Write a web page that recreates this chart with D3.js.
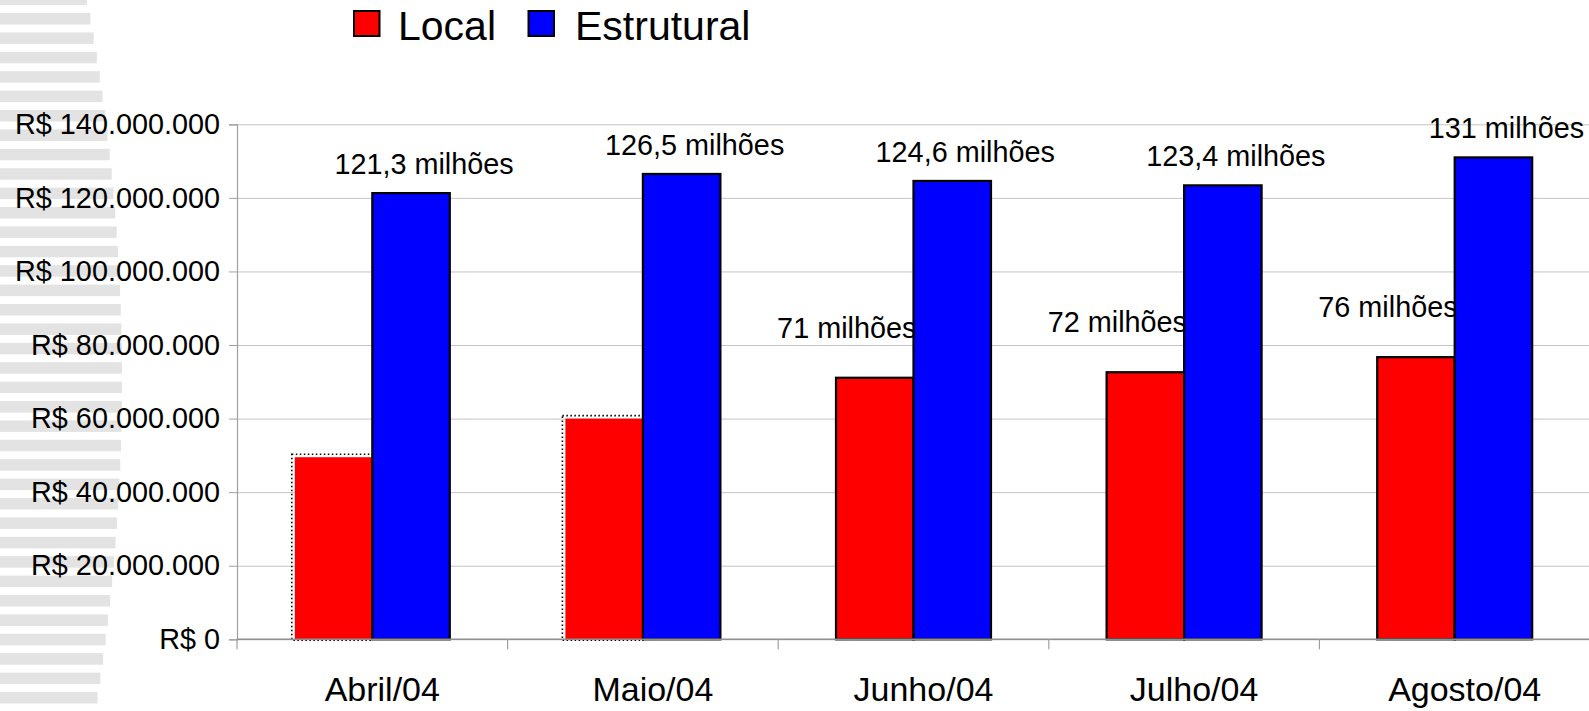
<!DOCTYPE html>
<html>
<head>
<meta charset="utf-8">
<script src="https://cdn.jsdelivr.net/npm/d3@7"></script>
<style>
  body { margin: 0; background: #ffffff; }
  svg { display: block; }
  text { font-family: "Liberation Sans", Arial, Helvetica, sans-serif; fill: #000; }
</style>
</head>
<body>
<svg id="chart" width="1589" height="711"></svg>
<script>
// ---------- DATA (values in millions of R$) ----------
const categories = ["Abril/04", "Maio/04", "Junho/04", "Julho/04", "Agosto/04"];
const seriesNames = ["Local", "Estrutural"];
const localValues = [49.5, 60.0, 71.1, 72.6, 76.7];
const estruturalValues = [121.3, 126.5, 124.6, 123.4, 131.0];
const localLabels = ["", "", "71 milhões", "72 milhões", "76 milhões"];
const estruturalLabels = ["121,3 milhões", "126,5 milhões", "124,6 milhões", "123,4 milhões", "131 milhões"];
const yTickValues = [0, 20, 40, 60, 80, 100, 120, 140];

// ---------- LAYOUT ----------
const W = 1589, H = 711;
const plot = { left: 237, right: 1590, top: 124.3, bottom: 639.3 };
const colors = { Local: "#ff0000", Estrutural: "#0000ff" };

const svg = d3.select("#chart");

// background decoration (watermark stripes at left)
const deco = svg.append("g");
for (let y0 = 13 - 19.4; y0 < H; y0 += 19.4) {
  const yc = y0 + 6;
  const edge = 122 - 35 * Math.pow((yc - 380) / 380, 2);
  deco.append("rect").attr("x", 0).attr("y", y0).attr("width", edge).attr("height", 11.5)
    .attr("fill", "#e3e3e3");
}

// scales
const y = d3.scaleLinear().domain([0, 140]).range([plot.bottom, plot.top]);
const x0 = d3.scaleBand().domain(categories).range([plot.left, plot.right]).padding(0);
const x1 = d3.scaleBand().domain(seriesNames).range([0, x0.bandwidth()])
  .paddingInner(0).paddingOuter(0.746);

const fmt = d3.formatLocale({ decimal: ",", thousands: ".", grouping: [3], currency: ["R$ ", ""] })
  .format(",.0f");

// gridlines
svg.append("g")
  .attr("transform", `translate(${plot.left},0)`)
  .call(d3.axisLeft(y).tickValues(yTickValues).tickSize(-(W - plot.left)).tickFormat(""))
  .call(g => g.select(".domain").remove())
  .call(g => g.selectAll(".tick line").attr("stroke", "#c4c4c4").attr("stroke-width", 1));

// y axis
svg.append("g")
  .attr("transform", `translate(${plot.left},0)`)
  .call(d3.axisLeft(y).tickValues(yTickValues).tickSize(8).tickPadding(9)
    .tickFormat(d => "R$ " + fmt(d * 1e6)))
  .call(g => g.select(".domain").attr("stroke", "#a0a0a0").attr("stroke-width", 1.2))
  .call(g => g.selectAll(".tick line").attr("stroke", "#a0a0a0"))
  .call(g => g.selectAll(".tick text").style("font-size", "28.8px")
    .attr("font-family", "Liberation Sans, Arial, sans-serif").attr("fill", "#000"));

// bars
const rows = categories.map((c, i) => ({
  cat: c, i,
  bars: [
    { key: "Local", value: localValues[i], label: localLabels[i] },
    { key: "Estrutural", value: estruturalValues[i], label: estruturalLabels[i] }
  ]
}));

const groups = svg.append("g").selectAll("g").data(rows).join("g")
  .attr("transform", d => `translate(${x0(d.cat)},0)`);

groups.each(function (row) {
  const g = d3.select(this);
  row.bars.forEach(b => {
    const bx = x1(b.key), bw = x1.bandwidth();
    const by = y(b.value), bh = y(0) - y(b.value);
    const dottedStyle = b.key === "Local" && row.i < 2;
    if (dottedStyle) {
      g.append("rect").attr("x", bx).attr("y", by).attr("width", bw).attr("height", bh)
        .attr("fill", colors[b.key]);
      g.append("rect").attr("x", bx - 3).attr("y", by - 3).attr("width", bw + 3).attr("height", bh + 4)
        .attr("fill", "none").attr("stroke", "#000").attr("stroke-width", 1.6)
        .attr("stroke-dasharray", "1.5,2.5");
    } else {
      g.append("rect").attr("x", bx).attr("y", by).attr("width", bw).attr("height", bh)
        .attr("fill", colors[b.key]).attr("stroke", "#000").attr("stroke-width", 2.2);
    }
  });
});

// x axis line and separators
svg.append("line").attr("x1", plot.left).attr("x2", W).attr("y1", y(0)).attr("y2", y(0))
  .attr("stroke", "#909090").attr("stroke-width", 1.5);
svg.append("g").selectAll("line").data(categories).join("line")
  .attr("x1", d => x0(d)).attr("x2", d => x0(d))
  .attr("y1", y(0)).attr("y2", y(0) + 10)
  .attr("stroke", "#a0a0a0").attr("stroke-width", 1.2);

// category labels
svg.append("g").selectAll("text").data(categories).join("text")
  .attr("x", d => x0(d) + x0.bandwidth() / 2 + 10)
  .attr("y", 701)
  .attr("text-anchor", "middle")
  .style("font-size", "34px")
  .text(d => d);

// value labels
groups.each(function (row) {
  const g = d3.select(this);
  row.bars.forEach(b => {
    if (!b.label) return;
    const cx = x1(b.key) + x1.bandwidth() / 2 + (b.key === "Local" ? -28 : 13);
    const ty = y(b.value) - (b.key === "Local" ? 40 : 19);
    g.append("text").attr("x", cx).attr("y", ty).attr("text-anchor", "middle")
      .style("font-size", "28.8px").text(b.label);
  });
});

// legend
const legend = svg.append("g");
const legendItems = [
  { key: "Local", sx: 354, tx: 398 },
  { key: "Estrutural", sx: 528.5, tx: 575 }
];
legendItems.forEach(it => {
  legend.append("rect").attr("x", it.sx).attr("y", 11).attr("width", 25.5).attr("height", 25)
    .attr("fill", colors[it.key]).attr("stroke", "#000").attr("stroke-width", 2);
  legend.append("text").attr("x", it.tx).attr("y", 40).style("font-size", "41px").text(it.key);
});
</script>
</body>
</html>
